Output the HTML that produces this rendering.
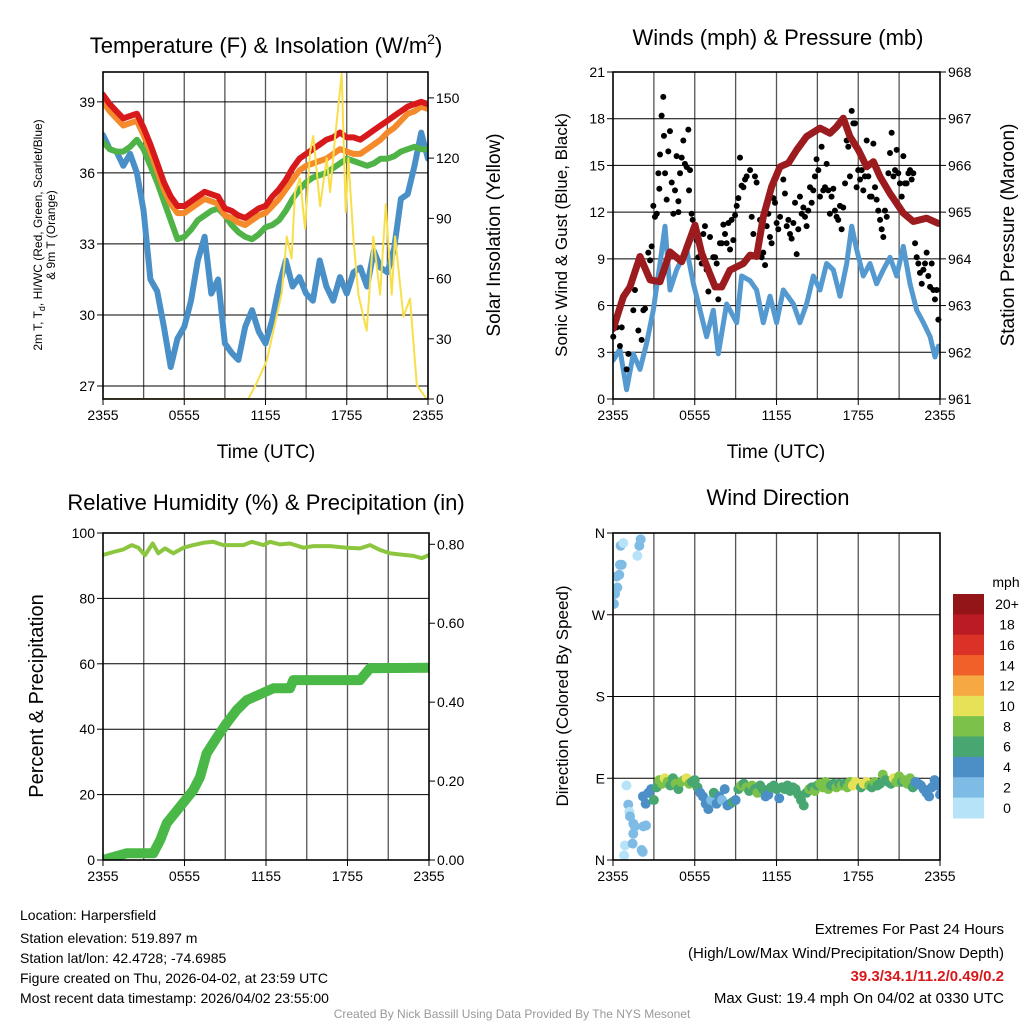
<!DOCTYPE html>
<html><head><meta charset="utf-8">
<style>
html,body{margin:0;padding:0;background:#fff;}
svg{display:block;font-family:"Liberation Sans",Arial,sans-serif;}
</style></head>
<body>
<svg id="chart" width="1024" height="1024" viewBox="0 0 1024 1024" xmlns="http://www.w3.org/2000/svg">
<defs>
<clipPath id="c1"><rect x="103" y="72" width="325" height="327"/></clipPath>
<clipPath id="c2"><rect x="613" y="72" width="327" height="327"/></clipPath>
<clipPath id="c3"><rect x="103" y="533" width="326" height="327"/></clipPath>
<clipPath id="c4"><rect x="613" y="533" width="327" height="327"/></clipPath>
</defs>
<text x="266" y="53" font-size="22" text-anchor="middle">Temperature (F) &amp; Insolation (W/m<tspan dy="-9" font-size="14">2</tspan><tspan dy="9">)</tspan></text>
<text x="778" y="45" font-size="22" text-anchor="middle">Winds (mph) &amp; Pressure (mb)</text>
<text x="266" y="510" font-size="22" text-anchor="middle">Relative Humidity (%) &amp; Precipitation (in)</text>
<text x="778" y="505" font-size="22" text-anchor="middle">Wind Direction</text>
<text transform="translate(42,235) rotate(-90)" font-size="12" text-anchor="middle">2m T, T<tspan dy="3" font-size="9">d</tspan><tspan dy="-3">, HI/WC (Red, Green, Scarlet/Blue)</tspan></text>
<text transform="translate(55,235) rotate(-90)" font-size="12" text-anchor="middle">&amp; 9m T (Orange)</text>
<text transform="translate(500,235) rotate(-90)" font-size="19" text-anchor="middle">Solar Insolation (Yellow)</text>
<text x="266" y="458" font-size="19" text-anchor="middle">Time (UTC)</text>
<text x="776" y="458" font-size="19" text-anchor="middle">Time (UTC)</text>
<text transform="translate(567,235) rotate(-90)" font-size="17" text-anchor="middle">Sonic Wind &amp; Gust (Blue, Black)</text>
<text transform="translate(1014,235) rotate(-90)" font-size="19" text-anchor="middle">Station Pressure (Maroon)</text>
<text transform="translate(43,696) rotate(-90)" font-size="20" text-anchor="middle">Percent &amp; Precipitation</text>
<text transform="translate(568,696) rotate(-90)" font-size="17" text-anchor="middle">Direction (Colored By Speed)</text>
<g font-size="14">
<text x="20" y="920">Location: Harpersfield</text>
<text x="20" y="943">Station elevation: 519.897 m</text>
<text x="20" y="963">Station lat/lon: 42.4728; -74.6985</text>
<text x="20" y="983">Figure created on Thu, 2026-04-02, at 23:59 UTC</text>
<text x="20" y="1003">Most recent data timestamp: 2026/04/02 23:55:00</text>
</g>
<g font-size="15" text-anchor="end">
<text x="1004" y="934">Extremes For Past 24 Hours</text>
<text x="1004" y="958">(High/Low/Max Wind/Precipitation/Snow Depth)</text>
<text x="1004" y="981" fill="#d7191c" font-weight="bold">39.3/34.1/11.2/0.49/0.2</text>
<text x="1004" y="1003">Max Gust: 19.4 mph On 04/02 at 0330 UTC</text>
</g>
<text x="512" y="1018" font-size="12" fill="#999" text-anchor="middle">Created By Nick Bassill Using Data Provided By The NYS Mesonet</text>
<g id="layer"></g>
</svg>
<script>
const timeTickHours = [0, 6, 12, 18, 24];
const timeTickLabels = ["2355", "0555", "1155", "1755", "2355"];
const halfHours = [0,0.5,1,1.5,2,2.5,3,3.5,4,4.5,5,5.5,6,6.5,7,7.5,8,8.5,9,9.5,10,10.5,11,11.5,12,12.5,13,13.5,14,14.5,15,15.5,16,16.5,17,17.5,18,18.5,19,19.5,20,20.5,21,21.5,22,22.5,23,23.5,24];
const tempRed = [39.3,38.9,38.6,38.3,38.4,38.5,37.9,37.2,36.4,35.6,35.0,34.6,34.6,34.8,35.0,35.2,35.1,35.0,34.5,34.4,34.2,34.1,34.3,34.5,34.6,35.0,35.3,35.7,36.2,36.6,36.8,37.0,37.2,37.4,37.5,37.7,37.5,37.5,37.4,37.6,37.8,38.0,38.2,38.4,38.6,38.8,38.9,39.0,38.9];
const tempOrange = [39.0,38.6,38.3,38.0,38.1,38.2,37.6,36.9,36.1,35.3,34.7,34.3,34.3,34.5,34.7,34.9,34.8,34.7,34.2,34.1,33.9,33.8,34.0,34.2,34.3,34.6,34.9,35.3,35.7,36.1,36.3,36.4,36.5,36.6,36.8,37.0,36.9,36.8,36.8,37.0,37.2,37.4,37.7,37.9,38.2,38.5,38.6,38.8,38.7];
const tempGreen = [37.3,37.0,36.9,36.9,37.1,37.4,37.0,36.3,35.6,34.8,34.0,33.2,33.3,33.6,34.0,34.2,34.4,34.5,34.2,33.8,33.5,33.3,33.2,33.4,33.7,33.8,34.0,34.4,34.9,35.3,35.6,35.8,35.9,36.0,36.2,36.4,36.6,36.5,36.4,36.3,36.4,36.6,36.6,36.7,36.9,37.0,37.1,37.0,37.0];
const tempBlue = [37.6,37.0,36.9,36.3,36.8,36.0,34.4,31.5,31.0,29.5,27.8,29.0,29.5,30.6,32.3,33.3,30.9,31.5,28.8,28.4,28.1,29.5,30.2,29.3,28.8,29.8,31.2,32.3,31.2,31.6,30.9,30.6,32.3,31.2,30.6,31.6,30.9,31.8,32.0,31.2,32.7,32.0,31.8,32.8,34.9,35.1,36.3,37.7,36.6];
const tempTicks = [27, 30, 33, 36, 39];
const insolTicks = [0, 30, 60, 90, 120, 150];
const insolHours = [0,10.73,11.35,12.09,12.58,13.2,13.57,13.93,14.18,14.55,14.92,15.29,15.53,16.03,16.52,16.77,17.13,17.38,17.63,17.92,18.12,18.49,18.86,19.47,19.96,20.46,20.88,21.32,21.57,22.18,22.67,23.17,23.9,24];
const insolVals = [0,0,8,19,34,53,81,70,103,110,85,123,131,96,120,103,130,146,162,93,120,80,52,34,81,52,97,52,81,41,50,7,0,0];

const windTicks = [0,3,6,9,12,15,18,21];
const presTicks = [961,962,963,964,965,966,967,968];
const windHours = [0.02,0.51,1.0,1.49,1.98,2.47,2.96,3.45,3.82,4.18,4.67,5.41,5.9,6.39,6.87,7.36,7.73,8.34,9.08,9.44,10.06,10.54,11.03,11.52,12.01,12.5,13.24,13.72,14.21,14.7,15.19,15.68,16.17,16.66,17.15,17.52,17.88,18.37,18.86,19.35,19.84,20.33,20.82,21.31,21.8,22.29,22.78,23.27,23.63,23.88];
const windSpeed = [2.5,3.2,0.6,2.9,1.9,3.6,5.7,8.7,11.1,7.0,8.3,9.6,7.4,5.7,4.0,5.7,2.9,6.1,4.9,7.9,7.6,7.0,4.9,6.6,4.9,7.0,6.1,4.9,6.1,7.9,7.0,8.7,8.3,6.6,8.7,11.1,9.6,7.9,8.7,7.4,8.3,9.1,7.9,9.8,7.4,5.7,4.9,4.0,2.7,3.4];
const presHours = [0.02,0.76,1.25,1.98,2.72,3.45,4.18,5.04,6.02,6.51,7.49,7.98,8.59,9.57,10.06,10.54,11.03,11.65,12.26,12.87,13.48,14.21,15.19,15.93,16.42,16.9,17.39,18.01,18.62,19.11,19.6,20.33,21.31,22.04,23.02,23.88];
const presVals = [962.51,963.19,963.40,964.05,963.55,963.51,964.15,963.94,964.72,964.12,963.40,963.40,963.76,963.90,964.08,964.05,964.90,965.55,965.97,966.05,966.33,966.62,966.80,966.69,966.83,967.01,966.62,966.33,965.97,966.08,965.76,965.40,964.98,964.80,964.87,964.76];
const gustHours = [0.02,0.27,0.64,0.51,1.0,1.13,1.49,1.61,1.86,2.1,2.23,2.35,2.59,2.72,2.84,2.96,3.08,3.21,3.33,3.4,3.45,3.57,3.69,3.74,3.82,3.94,4.06,4.18,4.31,4.43,4.55,4.67,4.8,4.8,4.92,5.04,5.16,5.28,5.41,5.53,5.58,5.65,5.77,5.85,6.14,6.26,6.51,6.63,6.75,6.87,7.0,7.12,7.36,7.49,7.61,7.73,7.85,7.98,8.1,8.22,8.34,8.47,8.59,8.71,8.83,8.96,9.08,9.2,9.32,9.44,9.57,9.69,9.81,10.06,10.18,10.3,10.42,10.54,10.79,10.91,11.03,11.16,11.28,11.4,11.52,11.64,11.77,11.89,12.01,12.13,12.26,12.5,12.62,12.75,12.87,12.99,13.11,13.24,13.36,13.48,13.6,13.72,13.85,13.97,14.09,14.21,14.33,14.46,14.58,14.7,14.82,14.94,15.07,15.19,15.31,15.43,15.56,15.68,15.8,15.92,16.04,16.17,16.29,16.41,16.53,16.66,16.78,16.9,17.03,17.15,17.27,17.39,17.52,17.64,17.76,17.88,18.0,18.13,18.25,18.37,18.49,18.62,18.74,18.86,18.98,19.11,19.23,19.35,19.47,19.6,19.72,19.84,19.96,20.09,20.21,20.33,20.45,20.58,20.7,20.82,20.94,21.06,21.19,21.31,21.43,21.55,21.68,21.8,21.92,22.04,22.17,22.29,22.41,22.53,22.66,22.78,22.9,23.02,23.14,23.27,23.39,23.51,23.63,23.76,23.88];
const gustMph = [4.0,4.6,4.6,3.4,1.9,2.9,5.7,7.0,4.4,3.8,5.7,5.8,9.4,8.9,9.8,12.4,11.7,11.9,14.5,13.5,15.7,18.2,19.4,16.9,14.5,12.8,15.9,17.2,13.9,11.9,13.4,15.6,12.0,12.7,14.5,15.5,16.6,15.1,14.9,17.3,13.4,14.7,11.9,11.5,10.2,9.1,8.7,10.6,11.1,8.3,6.9,10.4,9.1,9.1,8.7,6.4,10.0,10.0,11.2,10.6,10.0,11.3,9.6,11.5,10.2,11.8,12.4,12.9,15.5,13.7,13.6,14.1,14.3,14.7,11.7,10.6,14.3,13.9,11.5,9.1,9.4,8.6,11.1,11.9,10.4,10.0,12.9,12.6,11.3,10.9,11.7,14.1,13.2,11.1,11.5,10.6,10.3,11.3,12.6,9.3,10.9,13.0,11.9,12.3,11.7,11.1,12.1,13.6,12.6,13.4,14.3,15.4,14.7,13.0,16.2,13.4,13.6,15.1,13.4,11.9,13.0,13.5,12.1,11.7,11.5,12.4,10.9,12.3,13.85,16.6,16.2,14.3,18.5,17.7,17.7,13.6,14.7,14.1,14.7,13.4,14.3,16.6,14.3,13.0,13.0,16.4,13.6,12.8,12.1,11.5,10.9,10.4,12.1,11.7,14.5,15.8,17.1,14.3,14.7,16.0,14.5,13.85,13.0,15.6,13.85,13.85,14.5,14.7,14.1,14.5,10.0,9.1,8.7,8.1,7.4,8.3,8.7,9.4,7.9,7.2,8.7,7.0,6.4,7.0,5.1];

const rhTicks = [0,20,40,60,80,100];
const precipTicks = [0,0.2,0.4,0.6,0.8];
const precipTickLabels = ["0.00","0.20","0.40","0.60","0.80"];
const rhHours = [0,0.76,1.5,2.11,2.6,3.09,3.66,4.07,4.57,5.18,5.92,6.65,7.39,8.13,8.86,9.6,10.33,10.95,11.81,12.3,13.03,13.77,14.75,15.49,16.72,17.94,18.92,19.66,20.4,21.14,22.12,22.86,23.48,24];
const rhVals = [93.3,94.2,95.0,96.3,95.5,93.2,96.8,93.8,95.3,93.8,95.5,96.3,97.0,97.3,96.3,96.3,96.3,97.3,96.3,97.3,96.5,96.8,95.5,96.0,96.0,95.5,95.3,96.3,94.8,93.8,93.3,93.0,92.3,93.3];
const precipHours = [0,1.74,3.7,4.2,4.69,5.67,6.65,7.14,7.63,8.37,9.11,9.84,10.58,11.56,12.54,13.77,14.01,18.92,19.66,24];
const precipVals = [0,0.017,0.017,0.05,0.093,0.135,0.177,0.21,0.27,0.31,0.347,0.38,0.405,0.42,0.435,0.435,0.456,0.456,0.486,0.487];

const dirTickDeg = [0,90,180,270,360];
const dirTickLabels = ["N","E","S","W","N"];
const dirHours = [0.07,0.15,0.32,0.27,0.46,0.51,0.64,0.56,0.76,1.79,1.93,2.03,0.99,1.12,1.2,1.25,1.49,1.61,1.49,2.23,2.42,0.88,1.44,0.81,2.1,2.18,
 2.2,2.4,2.6,2.8,3.0,3.2,3.4,3.6,3.8,4.0,4.2,4.4,4.6,4.8,5.0,5.2,5.4,5.6,5.8,6.0,6.2,6.4,6.6,6.8,7.0,7.2,7.4,7.6,7.8,8.0,8.2,8.4,8.6,8.8,9.0,9.2,9.4,9.6,9.8,10.0,10.2,10.4,10.6,10.8,11.0,11.2,11.4,11.6,11.8,12.0,12.2,12.4,12.6,12.8,13.0,13.2,13.4,13.6,13.8,14.0,14.2,14.4,14.6,14.8,15.0,15.2,15.4,15.6,15.8,16.0,16.2,16.4,16.6,16.8,17.0,17.2,17.4,17.6,17.8,18.0,18.2,18.4,18.6,18.8,19.0,19.2,19.4,19.6,19.8,20.0,20.2,20.4,20.6,20.8,21.0,21.2,21.4,21.6,21.8,22.0,22.2,22.4,22.6,22.8,23.0,23.2,23.4,23.6,23.8,24.0];
const dirDeg = [282,293,300,312,314,325,325,346,349,335,346,353,82,61,53,48,40,37,29,37,38,16,18,5,11,9,
 70,62,74,78,66,80,88,84,90,86,82,90,84,78,86,88,90,84,86,88,80,74,70,62,56,66,74,62,70,66,78,60,62,64,66,78,82,84,80,76,82,78,74,82,78,70,72,80,82,78,68,80,78,82,76,80,78,72,66,60,74,78,80,76,82,84,80,86,78,82,84,80,84,82,84,80,86,82,86,84,80,84,86,82,80,86,82,84,94,88,86,84,90,86,92,86,88,84,90,80,86,84,82,78,74,70,80,88,82,72];
const dirSpeed = [3,3,3,3,3,3,3,3,1,1,3,3,1,3,1,3,3,3,3,3,3,1,3,1,3,3,
 4,4,4,5,6,6,8,9,10,8,7,6,8,6,8,9,10,8,7,6,6,4,4,5,4,3,6,4,4,3,4,4,5,6,4,7,8,7,8,6,8,7,8,7,6,4,4,6,7,6,4,6,7,6,6,7,6,6,6,6,6,8,7,8,6,8,8,8,8,7,6,8,7,8,6,8,8,10,10,10,6,10,10,8,6,8,6,6,8,6,6,6,10,8,8,6,8,8,8,6,4,4,4,4,4,4,4,4,4,4];
const speedBinLabels = ["0","2","4","6","8","10","12","14","16","18","20+"];
const speedBinColors = ["#b6e3f7","#7ebce5","#4b8fc6","#48a670","#7cc24a","#e6e257","#f6a843","#f06129","#da3226","#bb1b22","#931518"];

const NS = "http://www.w3.org/2000/svg";
const layer = document.getElementById("layer");
function mk(tag, attrs, parent) {
  const e = document.createElementNS(NS, tag);
  for (const k in attrs) e.setAttribute(k, attrs[k]);
  (parent || layer).appendChild(e);
  return e;
}
function lin(d0, d1, p0, p1) { return v => p0 + (v - d0) / (d1 - d0) * (p1 - p0); }
function pathD(xs, ys, sx, sy) {
  return xs.map((h, i) => (i ? "L" : "M") + sx(h).toFixed(1) + "," + sy(ys[i]).toFixed(1)).join("");
}
function drawLine(xs, ys, sx, sy, color, w, clip, name) {
  const p = mk("path", {d: pathD(xs, ys, sx, sy), fill: "none", stroke: color, "stroke-width": w, "stroke-linejoin": "round", "stroke-linecap": "round", "clip-path": "url(#" + clip + ")"});
  
  
  return p;
}
function panelFrame(L, R, T, B, sx, name) {
  const g = mk("g", {});
  
  
  for (let h = 3; h < 24; h += 3) {
    mk("line", {x1: sx(h), x2: sx(h), y1: T, y2: B, stroke: "#555", "stroke-width": 1.3}, g);
  }
  timeTickHours.forEach((h, i) => {
    mk("line", {x1: sx(h), x2: sx(h), y1: B, y2: B + 6, stroke: "#000", "stroke-width": 1}, g);
    const t = mk("text", {x: sx(h), y: B + 21, "font-size": 14, "text-anchor": "middle"}, g);
    t.textContent = timeTickLabels[i];
    
    
  });
  return g;
}
function hGridLeft(g, ticks, labels, sy, L, R) {
  ticks.forEach((v, i) => {
    const y = sy(v);
    mk("line", {x1: L, x2: R, y1: y, y2: y, stroke: "#000", "stroke-width": 1}, g);
    mk("line", {x1: L - 6, x2: L, y1: y, y2: y, stroke: "#000", "stroke-width": 1}, g);
    const t = mk("text", {x: L - 8, y: y + 5, "font-size": 14, "text-anchor": "end"}, g);
    t.textContent = labels[i];
    
    
  });
}
function rightAxis(g, ticks, labels, sy, R, size) {
  ticks.forEach((v, i) => {
    const y = sy(v);
    mk("line", {x1: R, x2: R + 6, y1: y, y2: y, stroke: "#000", "stroke-width": 1}, g);
    const t = mk("text", {x: R + 8, y: y + 5, "font-size": size || 14, "text-anchor": "start"}, g);
    t.textContent = labels[i];
    
    
  });
}
function border(L, R, T, B) {
  mk("rect", {x: L, y: T, width: R - L, height: B - T, fill: "none", stroke: "#000", "stroke-width": 1.6});
}

(function () {
  const L = 103, R = 428, T = 72, B = 399;
  const sx = lin(0, 24, L, R), sy = lin(26.45, 40.26, B, T), sr = lin(0, 162.9, B, T);
  const g = panelFrame(L, R, T, B, sx, "temperature-grid");
  hGridLeft(g, tempTicks, tempTicks.map(String), sy, L, R);
  rightAxis(g, insolTicks, insolTicks.map(String), sr, R);
  drawLine(halfHours, tempBlue, sx, sy, "#4a90c8", 6, "c1", "dewpoint-line");
  drawLine(halfHours, tempGreen, sx, sy, "#4fb348", 6, "c1", "heat-index-line");
  drawLine(halfHours, tempOrange, sx, sy, "#f58a2c", 6, "c1", "temp-9m-line");
  drawLine(halfHours, tempRed, sx, sy, "#d7191c", 6, "c1", "temp-2m-line");
  drawLine(insolHours, insolVals, sx, sr, "#f8df4a", 2, "c1", "insolation-line");
  border(L, R, T, B);
})();

(function () {
  const L = 613, R = 940, T = 72, B = 399;
  const sx = lin(0, 24, L, R), sy = lin(0, 21, B, T), sp = lin(961, 968, B, T);
  const g = panelFrame(L, R, T, B, sx, "winds-grid");
  hGridLeft(g, windTicks, windTicks.map(String), sy, L, R);
  rightAxis(g, presTicks, presTicks.map(String), sp, R);
  drawLine(windHours, windSpeed, sx, sy, "#5499d0", 5, "c2", "sonic-wind-line");
  gustHours.forEach((h, i) => {
    const c = mk("circle", {cx: sx(h), cy: sy(gustMph[i]), r: 3, fill: "#000"});
    
    
  });
  drawLine(presHours, presVals, sx, sp, "#9b1b1e", 7, "c2", "pressure-line");
  border(L, R, T, B);
})();

(function () {
  const L = 103, R = 429, T = 533, B = 860;
  const sx = lin(0, 24, L, R), sy = lin(0, 100, B, T), sr = lin(0, 0.8, B, 544.3);
  const g = panelFrame(L, R, T, B, sx, "humidity-grid");
  hGridLeft(g, rhTicks, rhTicks.map(String), sy, L, R);
  rightAxis(g, precipTicks, precipTickLabels, sr, R);
  drawLine(rhHours, rhVals, sx, sy, "#8cc63f", 4, "c3", "humidity-line");
  drawLine(precipHours, precipVals, sx, sr, "#4ab847", 10, "c3", "precipitation-line");
  border(L, R, T, B);
})();

(function () {
  const L = 613, R = 940, T = 533, B = 860;
  const sx = lin(0, 24, L, R), sy = lin(0, 360, B, T);
  const g = panelFrame(L, R, T, B, sx, "direction-grid");
  hGridLeft(g, dirTickDeg, dirTickLabels, sy, L, R);
  dirHours.forEach((h, i) => {
    const bin = Math.min(10, Math.floor(dirSpeed[i] / 2));
    const c = mk("circle", {cx: sx(h), cy: sy(dirDeg[i]), r: 5, fill: speedBinColors[bin], "clip-path": "url(#c4)"});
    
    
  });
  border(L, R, T, B);
  const lg = mk("g", {});
  
  
  const top = 594, bh = 20.36;
  const u = mk("text", {x: 1006, y: 587, "font-size": 14, "text-anchor": "middle"}, lg);
  u.textContent = "mph";
  for (let k = 10; k >= 0; k--) {
    const y = top + (10 - k) * bh;
    const r = mk("rect", {x: 953, y: y, width: 31, height: bh + 0.5, fill: speedBinColors[k]}, lg);
    
    
    const t = mk("text", {x: 1007, y: y + bh / 2 + 5, "font-size": 14, "text-anchor": "middle"}, lg);
    t.textContent = speedBinLabels[k];
    
    
  }
})();
</script>
</body></html>
